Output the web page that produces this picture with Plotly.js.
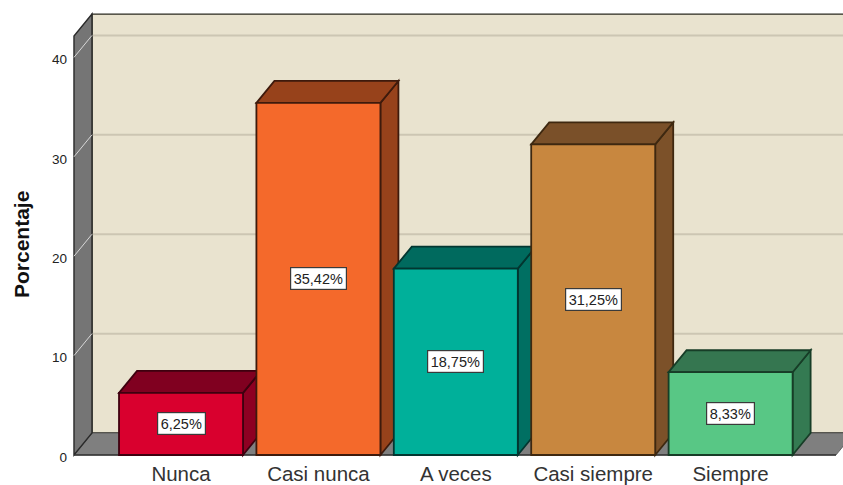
<!DOCTYPE html>
<html>
<head>
<meta charset="utf-8">
<script src="https://cdn.plot.ly/plotly-3.0.1.min.js"></script>
<style>html,body{margin:0;padding:0;background:#fff}#chart{width:843px;height:485px}</style>
</head>
<body>
<div id="chart"></div>
<script>
const categories = ['Nunca', 'Casi nunca', 'A veces', 'Casi siempre', 'Siempre'];
const values = [6.25, 35.42, 18.75, 31.25, 8.33];
const valueLabels = ['6,25%', '35,42%', '18,75%', '31,25%', '8,33%'];
const frontColors = ['#D9002E', '#F4692B', '#00B09A', '#C8873F', '#58C785'];
const sideColors = ['#8E0022', '#97421B', '#006F62', '#7C5129', '#347A52'];
const topColors = ['#800020', '#97421B', '#006A5E', '#7A5029', '#357650'];
const edgeColors = ['#3E000F', '#3E1A0C', '#023630', '#3E2810', '#173D27'];
const yTicks = [0, 10, 20, 30, 40];
const yTitle = 'Porcentaje';

const positions = categories.map((_, i) => i);
const barWidth = 0.9025;
const dX = 0.131, dY = 2.21;
const wallTop = 42.15;
const xMin = -0.808, xFloorEnd = 4.767;

function poly(pts, fill, line, width) {
  const d = pts.map((p, i) => (i ? 'L' : 'M') + p[0] + ',' + p[1]).join(' ') + ' Z';
  return {type: 'path', xref: 'x', yref: 'y', path: d, fillcolor: fill, layer: 'below',
          line: {color: line, width: width === undefined ? 1.8 : width}};
}
function seg(a, b, color, width) {
  return {type: 'line', xref: 'x', yref: 'y', x0: a[0], y0: a[1], x1: b[0], y1: b[1], layer: 'below',
          line: {color: color, width: width}};
}

const x0 = -0.779;
const shapes = [];
// back wall
shapes.push(poly([[x0 + dX, dY], [6, dY], [6, wallTop + dY], [x0 + dX, wallTop + dY]], '#E9E3CF', '#2A2A20', 1.4));
// grid lines on the back wall
yTicks.filter(t => t > 0).forEach(t => shapes.push(seg([x0 + dX, t + dY], [6, t + dY], '#CCC6B3', 2)));
// floor
shapes.push(poly([[x0, 0], [xFloorEnd, 0], [xFloorEnd + dX, dY], [x0 + dX, dY]], '#7F7F7F', '#555555', 0.8));
// left wall
shapes.push(poly([[x0, 0], [x0 + dX, dY], [x0 + dX, wallTop + dY], [x0, wallTop]], '#757575', '#2A2A2A', 1.4));
// wall grid diagonals
yTicks.filter(t => t > 0).forEach(t => shapes.push(seg([x0, t], [x0 + dX, t + dY], '#D8D8D8', 1)));
// base line
shapes.push(seg([x0, 0], [xFloorEnd, 0], '#333333', 1.4));
// 3D faces of the bars
positions.forEach((p, i) => {
  const l = p - barWidth / 2, r = p + barWidth / 2, v = values[i];
  shapes.push(poly([[r, 0], [r + dX, dY], [r + dX, v + dY], [r, v]], sideColors[i], edgeColors[i]));
  shapes.push(poly([[l, v], [r, v], [r + dX, v + dY], [l + dX, v + dY]], topColors[i], edgeColors[i]));
});

const annotations = positions.map((p, i) => ({
  x: p, y: values[i] / 2, xref: 'x', yref: 'y', text: valueLabels[i], showarrow: false,
  font: {family: 'Liberation Sans, Arial, sans-serif', size: 14.5, color: '#222222'},
  bgcolor: '#FFFFFF', bordercolor: '#3A3A3A', borderwidth: 1.2, borderpad: 2.5
}));
annotations.push({
  x: (21 - 70) / (843 - 70), y: (485 - 27 - 245) / (485 - 27 - 10),
  xref: 'paper', yref: 'paper', xanchor: 'center', yanchor: 'middle',
  text: '<b>' + yTitle + '</b>', showarrow: false, textangle: -90,
  font: {family: 'Liberation Sans, Arial, sans-serif', size: 21, color: '#111111'}
});

const trace = {
  type: 'bar', x: positions, y: values, width: barWidth, cliponaxis: false,
  marker: {color: frontColors, line: {color: edgeColors, width: 1.8}},
  hoverinfo: 'x+y'
};

const layout = {
  width: 843, height: 485,
  margin: {l: 70, r: 0, t: 10, b: 27, pad: 0},
  paper_bgcolor: '#FFFFFF', plot_bgcolor: '#FFFFFF',
  showlegend: false,
  font: {family: 'Liberation Sans, Arial, sans-serif', color: '#222222'},
  xaxis: {
    range: [xMin, 4.818], tickmode: 'array', tickvals: positions, ticktext: categories,
    showgrid: false, zeroline: false, showline: false, ticks: '', ticklen: 0,
    tickfont: {size: 20.5, color: '#333333'}, fixedrange: true, ticklabelstandoff: 1
  },
  yaxis: {
    range: [-0.302, 44.77], tickmode: 'array', tickvals: yTicks,
    showgrid: false, zeroline: false, showline: false, ticks: '', ticklen: 0,
    tickfont: {size: 13.5, color: '#222222'}, fixedrange: true,
    ticklabelstandoff: 2, ticklabelshift: 2
  },
  shapes: shapes,
  annotations: annotations
};
Plotly.newPlot('chart', [trace], layout, {displayModeBar: false, staticPlot: true});
</script>
</body>
</html>
